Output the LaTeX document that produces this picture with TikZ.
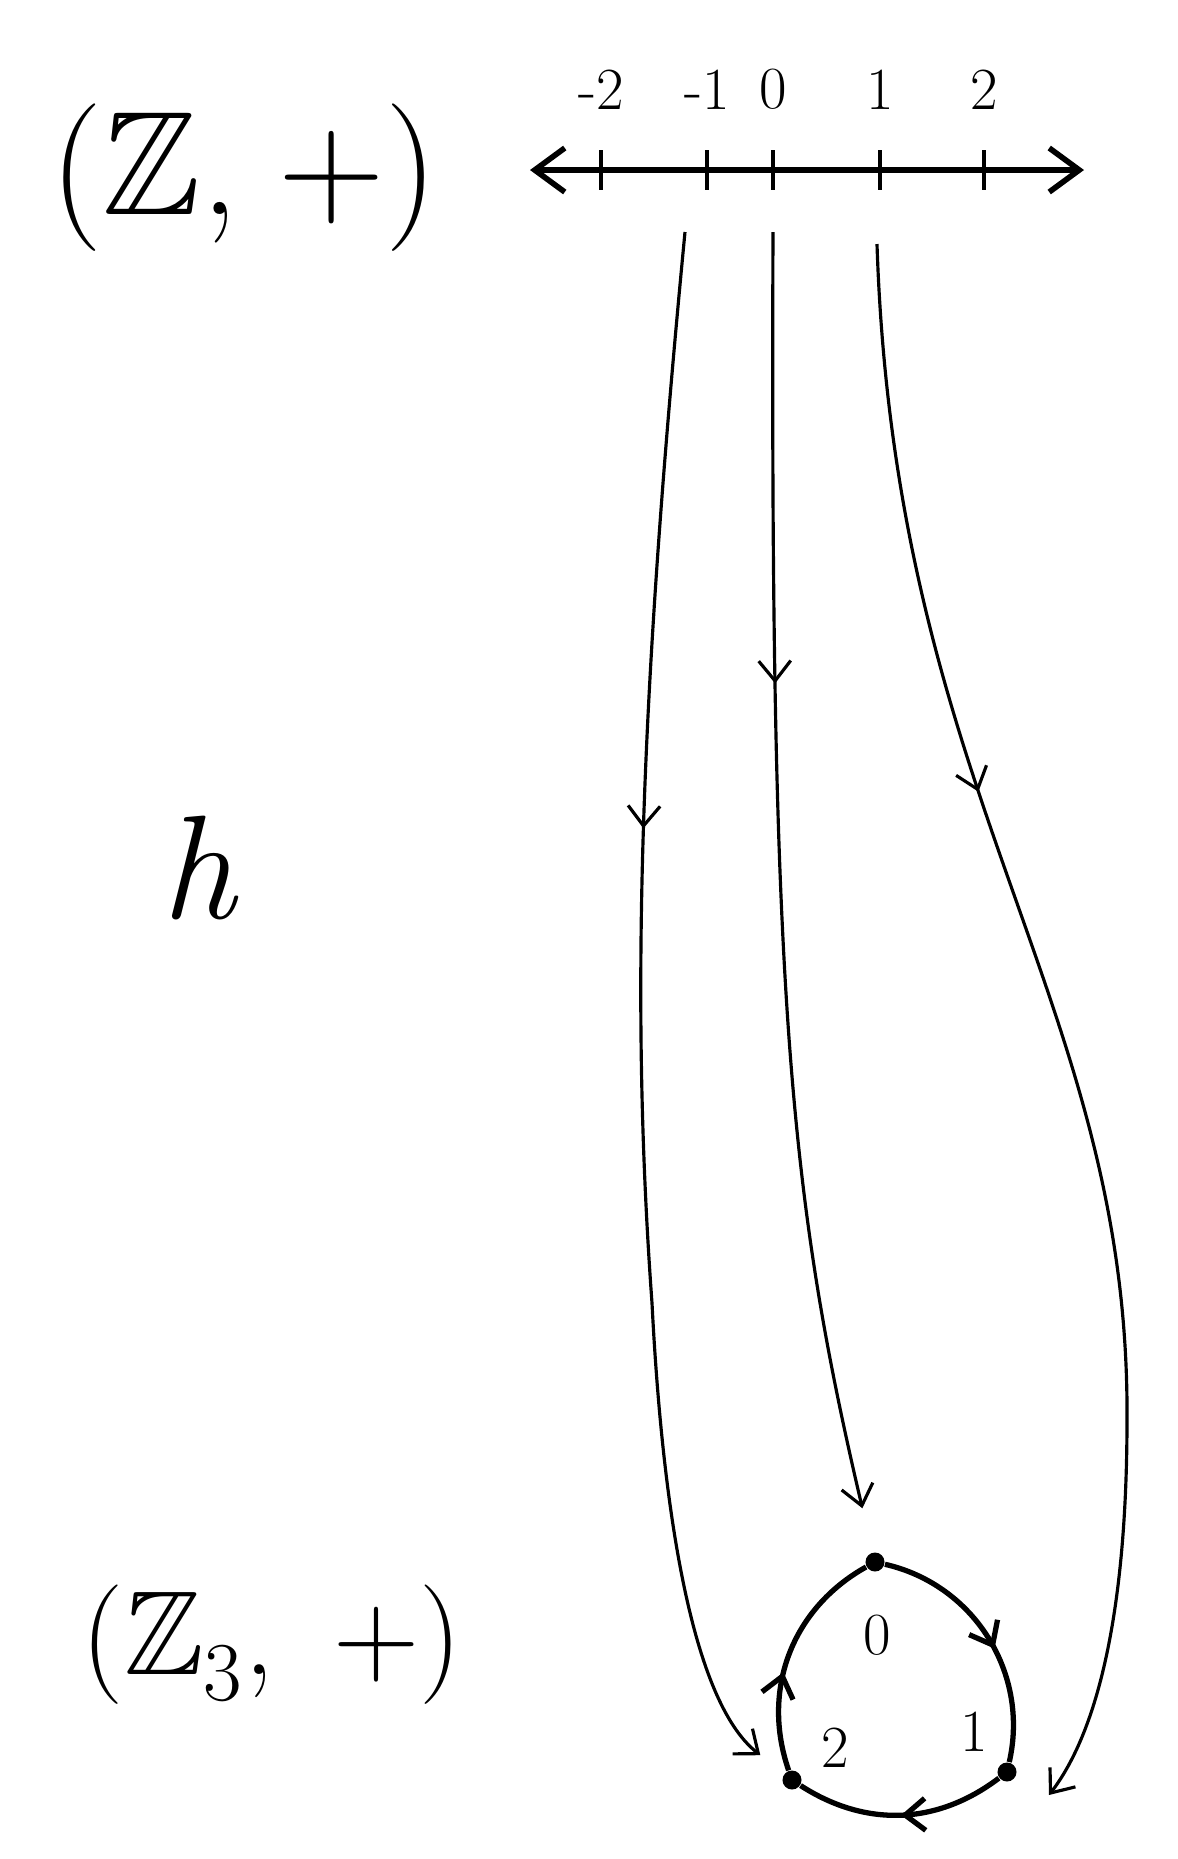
\documentclass[tikz,border=0pt]{standalone}
\usepackage{fontspec}
\usepackage{amsmath,amssymb}
\usepackage{tikz}
\usetikzlibrary{positioning,arrows.meta,decorations.markings}

\begin{document}
\begin{tikzpicture}[
    x=0.01cm, y=-0.01cm,
    >={Straight Barb[length=2mm,width=3.2mm]},
    group/.style={font={\fontsize{42}{46}\selectfont}, inner sep=0pt},
    groupsm/.style={font={\fontsize{34}{38}\selectfont}, inner sep=0pt},
    num/.style={font={\fontsize{17}{19}\selectfont}, inner sep=0pt},
    dot/.style={circle, fill, inner sep=0pt, minimum size=0.19cm},
    numline/.style={<->, line width=1.6pt, >={Straight Barb[length=3mm,width=4.4mm]}},
    tickmark/.style={line width=1.4pt},
    flow/.style={->, line width=0.9pt},
    cycedge/.style={line width=1.5pt},
    mid/.style={postaction={decorate},
        decoration={markings, mark=at position #1 with {\arrow{>}}}},
]
\useasboundingbox (0,0) rectangle (1178,1859);

% Groups and the map
\node[group] (zz) at (244,178) {($\mathbb{Z}$,\;+)};
\node[group] (hmap) at (198,868) {\itshape h};
\node[groupsm] (z3) at (272,1645) {($\mathbb{Z}$\textsubscript{3},\enspace+)};

% Number line
\coordinate (lend) at (530,170);
\coordinate (rend) at (1084,170);
\coordinate (tm2) at (601,170);
\coordinate (tm1) at (707,170);
\coordinate (t0) at (773,170);
\coordinate (t1) at (880,170);
\coordinate (t2) at (984,170);
\draw[numline] (lend) -- (rend);
\draw[tickmark] (tm2) ++(0,-20) -- ++(0,40);
\draw[tickmark] (tm1) ++(0,-20) -- ++(0,40);
\draw[tickmark] (t0) ++(0,-20) -- ++(0,40);
\draw[tickmark] (t1) ++(0,-20) -- ++(0,40);
\draw[tickmark] (t2) ++(0,-20) -- ++(0,40);
\node[num, above=0.6cm of tm2] (lm2) {-2};
\node[num, above=0.6cm of tm1] (lm1) {-1};
\node[num, above=0.6cm of t0] (l0) {0};
\node[num, above=0.6cm of t1] (l1) {1};
\node[num, above=0.6cm of t2] (l2) {2};

% Z_3 as a cycle
\node[dot] (c0) at (875,1562) {};
\node[dot] (c1) at (1007,1772) {};
\node[dot] (c2) at (792,1780) {};
\node[num] (n0) at (877,1635) {0};
\node[num] (n1) at (974,1732) {1};
\node[num] (n2) at (835,1748) {2};
\draw[cycedge, mid=0.55] (c0) to[bend left=45] (c1);
\draw[cycedge, mid=0.5] (c1) to[bend left=35] (c2);
\draw[cycedge, mid=0.42] (c2) to[bend left=40] (c0);

% h sends each integer to its class
\coordinate (sm1) at (685,232);
\coordinate (s0) at (773,232);
\coordinate (s1) at (877,244);
\coordinate (e1) at (1049,1795);
\draw[flow, mid=0.38, shorten >=0.3cm] (sm1) .. controls (640,700) and (630,1000) .. (652,1303)
    .. controls (662,1500) and (690,1700) .. (c2);
\draw[flow, mid=0.34, shorten >=0.45cm] (s0) .. controls (770,1000) and (790,1200) .. (c0);
\draw[flow, mid=0.35] (s1) .. controls (895,800) and (1130,1000) .. (1127,1420)
    .. controls (1127,1620) and (1095,1735) .. (e1);

\end{tikzpicture}
\end{document}
